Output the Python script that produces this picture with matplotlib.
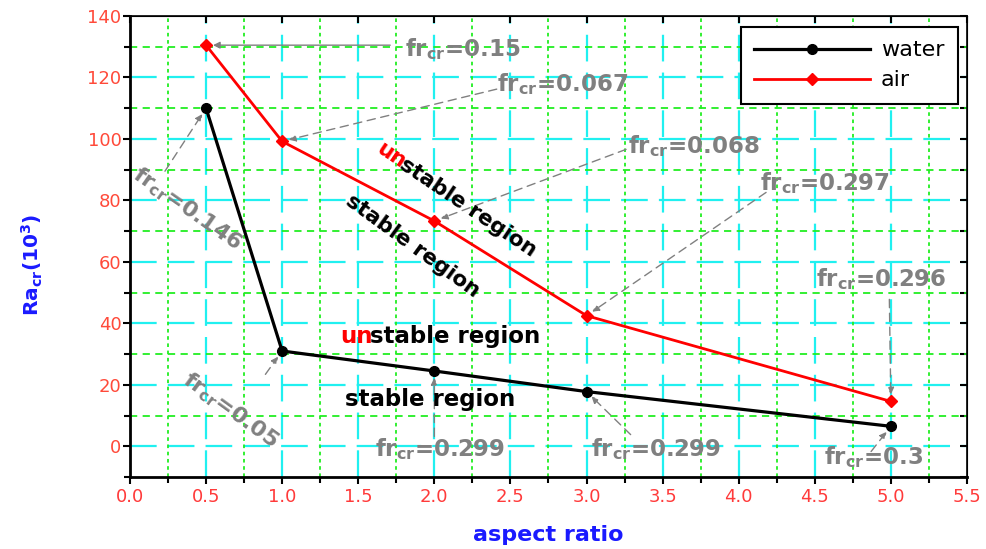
import math
import matplotlib
matplotlib.use("Agg")
import matplotlib.pyplot as plt
import matplotlib.transforms as mtransforms
from matplotlib.ticker import MultipleLocator

plt.rcParams['font.family'] = ['DejaVu Sans']
plt.rcParams['mathtext.fontset'] = 'custom'
plt.rcParams['mathtext.rm'] = 'DejaVu Sans:bold'
plt.rcParams['mathtext.it'] = 'DejaVu Sans:bold'
plt.rcParams['mathtext.bf'] = 'DejaVu Sans:bold'
plt.rcParams['mathtext.default'] = 'rm'

# ---- data ----
aspect_ratio = [0.5, 1.0, 2.0, 3.0, 5.0]
water_ra = [110.0, 31.0, 24.5, 17.8, 6.5]
air_ra = [130.5, 99.2, 73.3, 42.5, 14.6]
x_ticklabels = ['0.0', '0.5', '1.0', '1.5', '2.0', '2.5', '3.0', '3.5', '4.0', '4.5', '5.0', '5.5']
y_ticklabels = ['0', '20', '40', '60', '80', '100', '120', '140']
air_fr = ['0.15', '0.067', '0.068', '0.297', '0.296']
water_fr = ['0.146', '0.05', '0.299', '0.299', '0.3']

fig = plt.figure(figsize=(9.86, 5.49), dpi=100)
ax = fig.add_axes([0.1318, 0.1311, 0.8489, 0.8398])
ax.set_xlim(0, 5.5)
ax.set_ylim(-10, 140)

# grid
for xv in [0.5 * i for i in range(1, 11)]:
    ax.axvline(xv, color='#20f0f0', lw=1.6, dashes=(12, 5), zorder=0)
for yv in range(0, 140, 20):
    ax.axhline(yv, color='#20f0f0', lw=1.6, dashes=(12, 5), zorder=0)
for xv in [0.25 + 0.5 * i for i in range(11)]:
    ax.axvline(xv, color='#22ee22', lw=1.3, dashes=(2, 2), zorder=0.5)
for yv in range(10, 140, 20):
    ax.axhline(yv, color='#22ee22', lw=1.3, dashes=(4, 3), zorder=0.5)

ax.plot(aspect_ratio, water_ra, color='black', lw=2.3, marker='o', ms=7, label='water', zorder=3)
ax.plot(aspect_ratio, air_ra, color='red', lw=2.0, marker='D', ms=6, label='air', zorder=3)

# ticks
ax.set_xticks([0.5 * i for i in range(12)])
ax.set_xticklabels(x_ticklabels)
ax.set_yticks(list(range(0, 141, 20)))
ax.set_yticklabels(y_ticklabels)
ax.xaxis.set_minor_locator(MultipleLocator(0.25))
ax.yaxis.set_minor_locator(MultipleLocator(10))
ax.tick_params(axis='x', which='major', direction='out', length=5, width=1.5, labelsize=13, pad=3)
ax.tick_params(axis='y', which='major', direction='out', length=5, width=1.5, labelsize=13, pad=1)
ax.tick_params(axis='both', which='minor', direction='out', length=4, width=1.5)
for lab in ax.get_xticklabels():
    lab.set_color('#ff3a3a')
for lab in ax.get_yticklabels():
    lab.set_color('#ff4a3a')

for s in ['left', 'bottom']:
    ax.spines[s].set_linewidth(2.0)
for s in ['top', 'right']:
    ax.spines[s].set_linewidth(1.2)

secx = ax.secondary_xaxis('top')
secx.set_xticks([0.5 * i for i in range(12)])
secx.tick_params(direction='in', length=5, width=1.5, labeltop=False)
secx.xaxis.set_minor_locator(MultipleLocator(10))
secy = ax.secondary_yaxis('right')
secy.set_yticks(list(range(-10, 141, 10)))
secy.tick_params(direction='in', length=5, width=1.5, labelright=False)
secy.yaxis.set_minor_locator(MultipleLocator(1000))

ax.set_xlabel('aspect ratio', color='#1a1aff', fontsize=16, fontweight='bold')
ax.xaxis.set_label_coords(0.5, -0.105)
ax.set_ylabel(r'Ra$_{cr}$(10$^3$)', color='#1a1aff', fontsize=14.5, fontweight='bold')
ax.yaxis.set_label_coords(-0.102, 0.46)

leg = ax.legend(loc='upper right', bbox_to_anchor=(0.989, 0.976), borderaxespad=0,
                fontsize=16, handlelength=5.2, handletextpad=0.5, fancybox=False, framealpha=1,
                edgecolor='black', borderpad=0.6, labelspacing=0.45)
leg.get_frame().set_linewidth(1.5)

gray = '#808080'
fsz = 16.5

def frlabel(v):
    return r'fr$_{cr}$=' + v

# air annotations (text left, baseline)
air_text_pos = [(1.81, 127.0), (2.41, 115.6), (3.27, 95.5), (4.14, 83.5), (4.51, 52.0)]
air_arrow_start = [(1.71, 130.5), (2.41, 116.2), (3.26, 96.6), (4.18, 82.6), (4.99, 47.8)]
for i, (lbl, tp, st) in enumerate(zip(air_fr, air_text_pos, air_arrow_start)):
    ax.text(tp[0], tp[1], frlabel(lbl), color=gray, fontsize=fsz, fontweight='bold',
            ha='left', va='baseline', zorder=5)
    ls = '-' if i == 0 else (0, (6, 4))
    ax.annotate('', xy=(aspect_ratio[i], air_ra[i]), xytext=st,
                arrowprops=dict(arrowstyle='-|>', color=gray, lw=1.0, linestyle=ls,
                                shrinkA=0, shrinkB=5, mutation_scale=10), zorder=4)

# water annotations
water_arrow_start = [(0.23, 89.5), (0.89, 23.4), (2.0, 3.2), (3.29, 3.8), (4.87, -1.7)]
for i, st in enumerate(water_arrow_start):
    ax.annotate('', xy=(aspect_ratio[i], water_ra[i]), xytext=st,
                arrowprops=dict(arrowstyle='-|>', color=gray, lw=1.0, linestyle=(0, (6, 4)),
                                shrinkA=0, shrinkB=5, mutation_scale=10), zorder=4)
ax.text(0.375, 77.3, frlabel(water_fr[0]), color=gray, fontsize=16, fontweight='bold', rotation=-35,
        rotation_mode='anchor', ha='center', va='center', zorder=5)
ax.text(0.658, 11.6, frlabel(water_fr[1]), color=gray, fontsize=16, fontweight='bold', rotation=-36,
        rotation_mode='anchor', ha='center', va='center', zorder=5)
ax.text(1.61, -3.3, frlabel(water_fr[2]), color=gray, fontsize=fsz, fontweight='bold',
        ha='left', va='baseline', zorder=5)
ax.text(3.03, -3.3, frlabel(water_fr[3]), color=gray, fontsize=fsz, fontweight='bold',
        ha='left', va='baseline', zorder=5)
ax.text(4.56, -5.9, frlabel(water_fr[4]), color=gray, fontsize=fsz, fontweight='bold',
        ha='left', va='baseline', zorder=5)

# region labels
renderer = fig.canvas.get_renderer()

def region(x, y, rot, red_prefix, rfs):
    rest = 'stable region'
    dx = dy = 0.0
    if red_prefix:
        t = ax.text(x, y, 'un', color='red', fontsize=rfs, fontweight='bold', rotation=0,
                    rotation_mode='anchor', ha='left', va='baseline', zorder=6)
        w = t.get_window_extent(renderer).width - 2.0
        t.set_rotation(rot)
        dx = w * math.cos(math.radians(rot))
        dy = w * math.sin(math.radians(rot))
    tr = mtransforms.offset_copy(ax.transData, fig=fig, x=dx, y=dy, units='dots')
    ax.text(x, y, rest, color='black', fontsize=rfs, fontweight='bold', rotation=rot,
            rotation_mode='anchor', ha='left', va='baseline', transform=tr, zorder=5)

region(1.61, 95.9, -34, True, 15.5)
region(1.41, 79.0, -36, False, 15.5)
region(1.38, 33.7, 0, True, 16.5)
region(1.41, 13.2, 0, False, 16.5)

fig.savefig('out.png', dpi=100)
